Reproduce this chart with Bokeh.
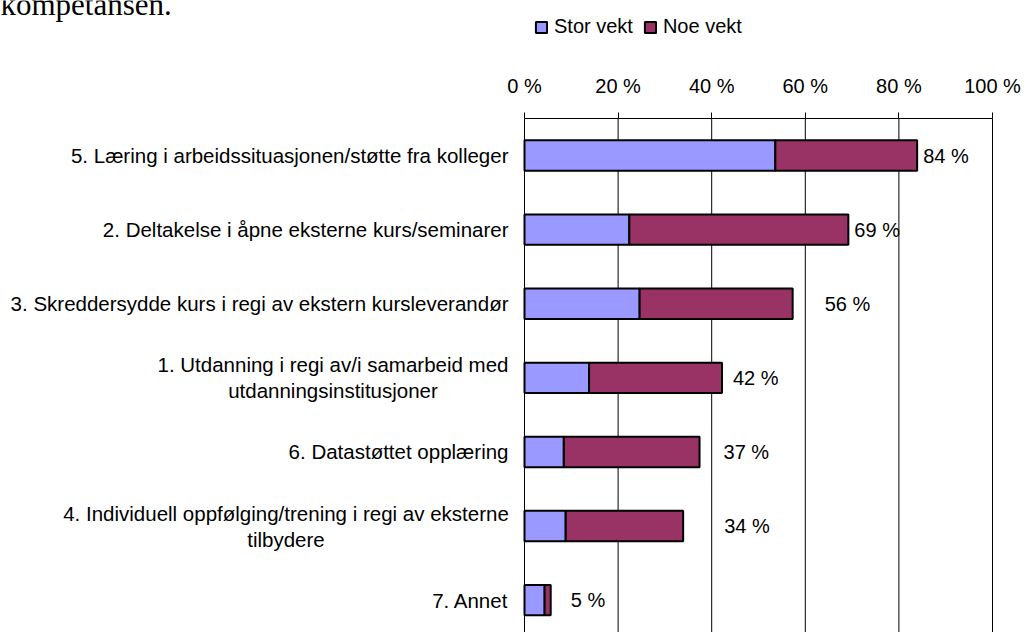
from bokeh.plotting import figure
from bokeh.models import ColumnDataSource, Range1d, FixedTicker, Label, LabelSet
from bokeh.core.properties import value
from bokeh.embed import file_html
from bokeh.resources import INLINE

# ---------------- data ----------------
categories = [
    "5. Læring i arbeidssituasjonen/støtte fra kolleger",
    "2. Deltakelse i åpne eksterne kurs/seminarer",
    "3. Skreddersydde kurs i regi av ekstern kursleverandør",
    "1. Utdanning i regi av/i samarbeid med\nutdanningsinstitusjoner",
    "6. Datastøttet opplæring",
    "4. Individuell oppfølging/trening i regi av eksterne\ntilbydere",
    "7. Annet",
]
stor_vekt = [53.6, 22.4, 24.6, 13.8, 8.4, 8.8, 4.3]
noe_vekt = [30.3, 46.8, 32.7, 28.4, 29.0, 25.1, 1.3]
total_labels = ["84 %", "69 %", "56 %", "42 %", "37 %", "34 %", "5 %"]
series_names = ["Stor vekt", "Noe vekt"]
x_ticks = [0, 20, 40, 60, 80, 100]
x_tick_labels = ["0 %", "20 %", "40 %", "60 %", "80 %", "100 %"]
intro_text = "kompetansen."

# ---------------- layout / style ----------------
W, H = 1024, 632
AXIS_LEFT_PX, AXIS_RIGHT_PX, AXIS_TOP_PX = 524, 992, 118
BAND = 74.1
PX_PER_UNIT = (AXIS_RIGHT_PX - AXIS_LEFT_PX) / 100.0
label_offset_px = [6, 6, 32, 11, 24, 41, 20]
two_line_center_px = {3: 332.5, 5: 285.5}
LINE_SPACING_PX = 26
CAT_RIGHT_PX = 508
FONT = "Liberation Sans"
COLORS = ["#9999FF", "#993366"]


def px2x(px):
    return (px - AXIS_LEFT_PX) / PX_PER_UNIT


def py2y(py):
    return -0.5 + (py - AXIS_TOP_PX) / BAND


n = len(categories)
totals = [s + v for s, v in zip(stor_vekt, noe_vekt)]
source = ColumnDataSource(dict(
    y=list(range(n)), stor=stor_vekt, noe=noe_vekt, total=totals,
    label=total_labels, off=label_offset_px,
))

p = figure(
    width=W, height=H,
    x_range=Range1d(px2x(0), px2x(W)), y_range=Range1d(py2y(H), py2y(0)),
    x_axis_location="above", y_axis_location=None,
    toolbar_location=None, output_backend="svg",
    min_border=0,
)
p.outline_line_color = None
p.background_fill_color = "white"
for g in p.grid:
    g.visible = False

ax = p.xaxis[0]
ax.fixed_location = -0.5
ax.bounds = (x_ticks[0], x_ticks[-1])
ax.ticker = FixedTicker(ticks=x_ticks)
ax.major_label_overrides = dict(zip(x_ticks, x_tick_labels))
ax.minor_tick_line_color = None
ax.major_tick_in = 0
ax.major_tick_out = 6
ax.major_tick_line_color = "black"
ax.axis_line_color = "black"
ax.major_label_text_font = FONT
ax.major_label_text_font_size = "20px"
ax.major_label_text_color = "black"
ax.major_label_standoff = 16

# vertical gridlines from the axis down
p.segment(x0=x_ticks, x1=x_ticks, y0=[-0.5] * len(x_ticks),
          y1=[py2y(H + 10)] * len(x_ticks), line_color="black", line_width=1)

p.hbar_stack(["stor", "noe"], y="y", height=0.41, source=source,
             fill_color=COLORS, line_color="black", line_width=2,
             legend_label=series_names)

leg = p.legend[0]
leg.orientation = "horizontal"
leg.glyph_width = 14
leg.glyph_height = 14
leg.label_standoff = 6
leg.spacing = 10
leg.padding = 0
leg.margin = 0
leg.border_line_color = None
leg.background_fill_alpha = 0
leg.label_text_font = FONT
leg.label_text_font_size = "20px"
leg.label_text_color = "black"
leg.location = (534, H - 38)

labels = LabelSet(x="total", y="y", text="label", x_offset="off", source=source,
                  text_align="left", text_baseline="middle",
                  text_font=value(FONT), text_font_size=value("20px"),
                  text_color="black")
p.add_layout(labels)

for i, cat in enumerate(categories):
    lines = cat.split("\n")
    if len(lines) == 1:
        p.add_layout(Label(x=px2x(CAT_RIGHT_PX), y=i, text=cat,
                           text_align="right", text_baseline="middle",
                           text_font=FONT, text_font_size="20.5px",
                           text_color="black"))
    else:
        cx = px2x(two_line_center_px[i])
        for j, line in enumerate(lines):
            dy = (j - (len(lines) - 1) / 2) * LINE_SPACING_PX / BAND
            p.add_layout(Label(x=cx, y=i + dy, text=line,
                               text_align="center", text_baseline="middle",
                               text_font=FONT, text_font_size="20.5px",
                               text_color="black"))

p.add_layout(Label(x=px2x(0), y=py2y(4), text=intro_text,
                   text_align="left", text_baseline="alphabetic",
                   text_font="Liberation Serif", text_font_size="31px",
                   text_color="black"))

open("out.html", "w").write(file_html(p, INLINE))
